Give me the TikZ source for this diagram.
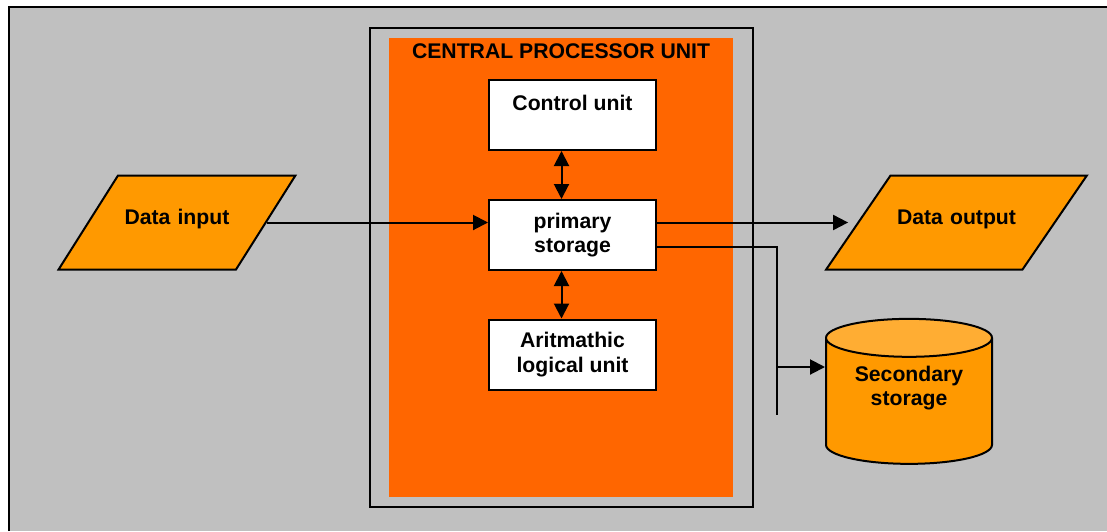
\documentclass[tikz,border=0pt]{standalone}
\usepackage{fontspec}
\setmainfont{Liberation Sans}
\usepackage{tikz}
\usetikzlibrary{arrows.meta,shapes.geometric,positioning}

\definecolor{panelgray}{HTML}{C0C0C0}
\definecolor{cpuorange}{HTML}{FF6600}
\definecolor{ioorange}{HTML}{FF9900}
\definecolor{toporange}{HTML}{FFAD33}

\begin{document}
\begin{tikzpicture}[x=1pt,y=-1pt,>={Triangle[length=15pt,width=15pt]},line width=2pt,node distance=120pt,
  font=\fontsize{21.2}{24.5}\selectfont\bfseries,
  unit/.style={draw,fill=white,minimum width=167pt,minimum height=70pt,align=center,inner sep=0pt},
  io/.style={draw,fill=ioorange,trapezium,inner sep=0pt,align=center,text height=49pt,text depth=45pt}]
  \useasboundingbox (0,0) rectangle (1107,531);
  \fill[panelgray] (9,7) rectangle (1107,531);
  \draw (9,531) -- (9,7) -- (1107,7);

  \node [draw,fill=panelgray,minimum width=383pt,minimum height=479pt] (cpu) at (561,267) {};
  \node [fill=cpuorange,minimum width=344pt,minimum height=459pt,inner sep=0pt,line width=0pt] (core) at (561,267.5) {};
  \node [below=4pt of core.north,inner sep=0pt,text height=15pt,text depth=0pt] (title) {CENTRAL PROCESSOR UNIT};

  \node [unit] (ps) at (572.5,235) {primary\\storage};
  \node [unit,above of=ps] (cu) {Control unit\\\mbox{}};
  \node [unit,below of=ps,yshift=0.5pt] (alu) {Aritmathic\\logical unit};

  \node [io,text width=118pt,trapezium left angle=57.7,trapezium right angle=122.3] (din) at (177,222.5) {Data input};
  \node [io,text width=132pt,trapezium left angle=55.6,trapezium right angle=124.4,right of=ps,xshift=264pt,yshift=12.5pt] (dout) {Data output};

  \node [draw,cylinder,shape border rotate=90,aspect=0.33,minimum width=166pt,minimum height=145pt,
    cylinder uses custom fill,cylinder body fill=ioorange,cylinder end fill=toporange] (sec) at (909,404)
    {\raisebox{10pt}[24pt][24pt]{\begin{tabular}{@{}c@{}}Secondary\\storage\end{tabular}}};
  \coordinate (tail) at (777,415);

  \path[<->] ([xshift=-11pt]cu.south) edge ([xshift=-11pt]ps.north);
  \path[<->] ([xshift=-11pt]ps.south) edge ([xshift=-11pt]alu.north);
  \draw[->] (din.east) -- (din.east -| ps.west);
  \draw[->,shorten >=9pt] (ps.east |- dout.west) -- (dout.west);
  \draw ([yshift=-12pt]ps.east) -| (tail);
  \draw[->] (tail |- 0,367) -- (sec.west |- 0,367);

\end{tikzpicture}
\end{document}
